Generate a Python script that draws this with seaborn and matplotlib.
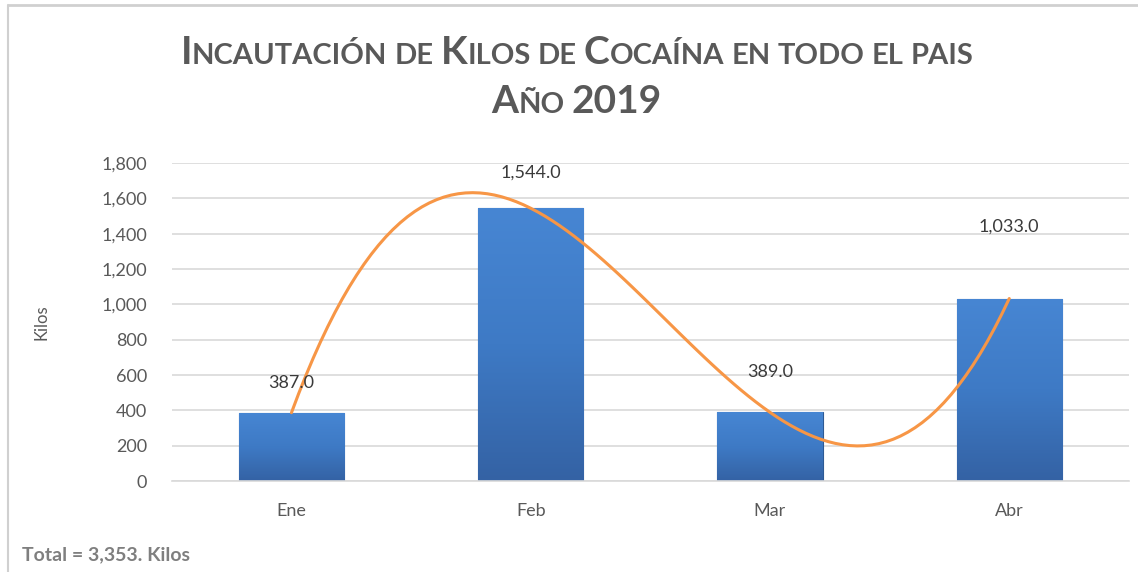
import numpy as np
import pandas as pd
import seaborn as sns
import matplotlib.pyplot as plt
from matplotlib.colors import LinearSegmentedColormap
from matplotlib.offsetbox import TextArea, HPacker, AnnotationBbox
from matplotlib.lines import Line2D

meses = ['Ene', 'Feb', 'Mar', 'Abr']
kilos = [387.0, 1544.0, 389.0, 1033.0]
yticks = [0, 200, 400, 600, 800, 1000, 1200, 1400, 1600, 1800]

sns.set_theme(style="white")
plt.rcParams['font.family'] = ['Lato', 'DejaVu Sans']

gris = '#595959'
df = pd.DataFrame({'mes': meses, 'kilos': kilos, 'pos': range(len(meses))})

fig = plt.figure(figsize=(11.38, 5.72), dpi=100)
ax = fig.add_axes([0.151, 0.159, 0.841, 0.556])

sns.barplot(data=df, x='mes', y='kilos', color='#3f7bc6', width=0.44,
            edgecolor='#2d5a94', linewidth=0.8, saturation=1, ax=ax, zorder=2)

# gradient fill clipped to each bar
cmap = LinearSegmentedColormap.from_list('barra', ['#3462a4', '#3e7ac5', '#4786d3'])
grad = np.linspace(0, 1, 256).reshape(-1, 1)
for p in ax.patches:
    x0, y0 = p.get_x(), p.get_y()
    im = ax.imshow(grad, cmap=cmap, origin='lower', aspect='auto',
                   extent=(x0, x0 + p.get_width(), y0, y0 + p.get_height()), zorder=2.5)
    im.set_clip_path(p)

# cubic trend line (Excel polynomial order 3)
sns.regplot(data=df, x='pos', y='kilos', order=3, ci=None, scatter=False, truncate=True,
            line_kws={'color': '#F79646', 'lw': 2.2, 'zorder': 4}, ax=ax)

# data labels
off = [30, 36, 40, 72]
for i, v in enumerate(kilos):
    ax.annotate(f'{v:,.1f}', (i, v), xytext=(0, off[i]), textcoords='offset pixels',
                ha='center', va='center', fontsize=13, color='#3a3a3a', zorder=5)

ax.set_xlim(-0.5, 3.5)
ax.set_ylim(0, 1800)
ax.set_yticks(yticks)
ax.set_yticklabels([f'{t:,}' for t in yticks])
ax.yaxis.grid(True, color='#d9d9d9', lw=1.2)
ax.set_axisbelow(True)
for s in ['top', 'right', 'left']:
    ax.spines[s].set_visible(False)
ax.spines['bottom'].set_color('#d9d9d9')
ax.spines['bottom'].set_linewidth(1.2)
ax.tick_params(axis='y', length=0, pad=18, labelsize=13, labelcolor=gris)
ax.tick_params(axis='x', length=0, pad=16, labelsize=13, labelcolor=gris)
ax.set_xlabel('')
ax.set_ylabel('Kilos', fontsize=12, color=gris)
ax.yaxis.set_label_coords(-122 / 957, 0.5)


# small caps title
def versalitas(texto, grande, chica):
    partes = []
    for palabra in texto.split(' '):
        runs = []
        for c in palabra:
            tam = grande if (c.isupper() or c.isdigit()) else chica
            if runs and runs[-1][1] == tam:
                runs[-1][0] += c.upper()
            else:
                runs.append([c.upper(), tam])
        partes.append(runs)
    hijos = []
    for k, runs in enumerate(partes):
        for t, tam in runs:
            hijos.append(TextArea(t, textprops=dict(fontsize=tam, fontweight='bold', color=gris)))
        if k < len(partes) - 1:
            hijos.append(TextArea(' ', textprops=dict(fontsize=chica, fontweight='bold', color=gris)))
    return HPacker(children=hijos, align='baseline', pad=0, sep=0)


for linea, yy in [('Incautación de Kilos de Cocaína en todo el pais', 0.909),
                  ('Año 2019', 0.823)]:
    caja = versalitas(linea, 28, 21)
    ab = AnnotationBbox(caja, (0.507, yy), xycoords='figure fraction', frameon=False,
                        box_alignment=(0.5, 0.5))
    fig.add_artist(ab)

fig.text(22 / 1138, 1 - 555 / 572, f'Total = {sum(kilos):,.0f}. Kilos', fontsize=14,
         fontweight='bold', color='#7f7f7f', ha='left', va='center')

# chart border (top and left only visible)
fig.add_artist(Line2D([8 / 1138, 1], [1 - 5 / 572] * 2, transform=fig.transFigure,
                      color='#d0d0d0', lw=2))
fig.add_artist(Line2D([8 / 1138] * 2, [0, 1 - 5 / 572], transform=fig.transFigure,
                      color='#d0d0d0', lw=1.5))

fig.savefig('out.png', dpi=100)
